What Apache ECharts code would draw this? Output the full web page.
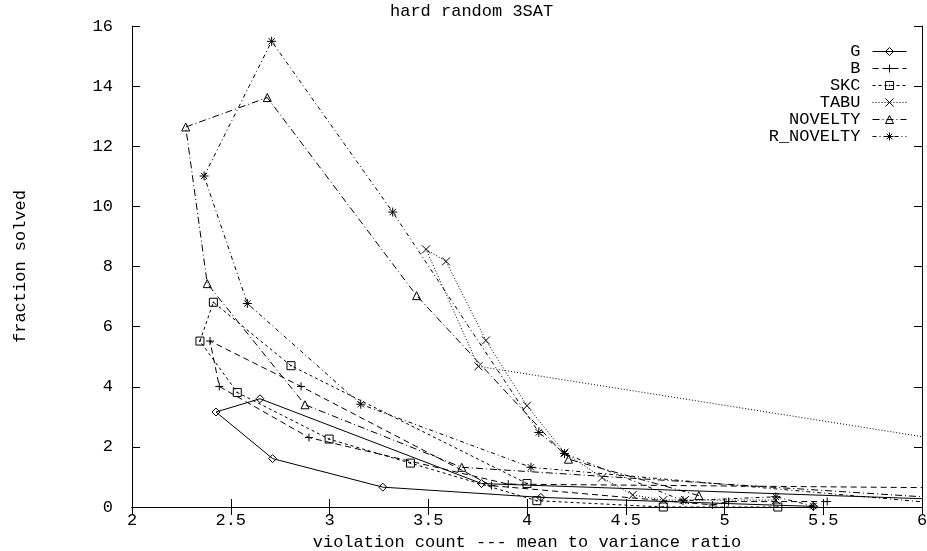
<!DOCTYPE html>
<html><head><meta charset="utf-8">
<script src="https://cdn.jsdelivr.net/npm/echarts@6/dist/echarts.min.js"></script>
<style>html,body{margin:0;padding:0;background:#fff}#c{width:927px;height:551px}</style>
</head><body><div id="c"></div>
<script>
// ---- data (x = violation count mean/variance ratio, y = fraction solved), in file order ----
const seriesNames = ['G', 'B', 'SKC', 'TABU', 'NOVELTY', 'R_NOVELTY'];
const G = [[7.0,0.05],[3.77,0.78],[2.648,3.6],[2.425,3.16],[2.712,1.61],[3.27,0.66],[4.07,0.32],[5.45,0.02]];
const B = [[5.52,0.18],[5.02,0.18],[4.94,0.07],[3.82,0.71],[2.856,4.01],[2.395,5.52],[2.442,4.01],[2.896,2.31],[3.905,0.76],[7.0,0.59]];
const SKC = [[4.0,0.78],[2.805,4.70],[2.412,6.81],[2.344,5.52],[2.533,3.81],[2.998,2.26],[3.41,1.46],[4.05,0.21],[4.69,0.0],[5.27,0.0]];
const TABU = [[7.0,1.30],[3.754,4.68],[3.489,8.57],[3.59,8.17],[3.792,5.54],[4.0,3.37],[4.19,1.81],[4.38,0.98],[4.535,0.4],[4.69,0.23],[4.8,0.23],[5.26,0.23]];
const NOVELTY = [[4.87,0.38],[4.21,1.59],[3.441,7.03],[2.685,13.62],[2.272,12.64],[2.381,7.43],[2.876,3.4],[3.67,1.32],[6.5,0.13]];
const R_NOVELTY = [[5.45,0.03],[5.26,0.34],[4.79,0.21],[4.19,1.78],[4.06,2.48],[3.32,9.81],[2.707,15.49],[2.365,11.01],[2.584,6.77],[3.158,3.42],[4.02,1.32],[6.3,0.0]];
const xRange = [2, 6, 0.5];
const yRange = [0, 16, 2];
const titleText = 'hard random 3SAT';
const xName = 'violation count --- mean to variance ratio';
const yName = 'fraction solved';

// ---- styling ----
const FONT = 'Liberation Mono';
const FS = 17;
const INK = '#000';
const syms = {
  G: 'diamond',
  B: 'path://M0 5L10 5M5 0L5 10',
  SKC: 'path://M0 0L10 0L10 10L0 10ZM4.5 4.5L5.5 4.5L5.5 5.5L4.5 5.5Z',
  TABU: 'path://M0 0L10 10M0 10L10 0',
  NOVELTY: 'triangle',
  R_NOVELTY: 'path://M0 5L10 5M5 0L5 10M1.5 1.5L8.5 8.5M1.5 8.5L8.5 1.5'
};
const symSizes = {G: 8, B: 8, SKC: 8, TABU: 8, NOVELTY: 8, R_NOVELTY: 9};
const dashes = {
  G: 'solid',
  B: [6, 4],
  SKC: [3, 3],
  TABU: [1, 2],
  NOVELTY: [7, 3, 1, 3],
  R_NOVELTY: [4, 3, 1, 3]
};
const dataMap = {G, B, SKC, TABU, NOVELTY, R_NOVELTY};

const chart = echarts.init(document.getElementById('c'), null, {renderer: 'canvas'});

const axisCommon = {
  type: 'value',
  axisLine: {show: true, lineStyle: {color: INK, width: 1}},
  axisTick: {show: true, inside: true, length: 8, lineStyle: {color: INK}},
  splitLine: {show: false}
};

chart.setOption({
  animation: false,
  backgroundColor: '#fff',
  title: {
    text: titleText, left: 390, top: 3, padding: 0,
    textStyle: {fontFamily: FONT, fontSize: FS, fontWeight: 'normal', color: INK}
  },
  grid: {left: 132, right: 5, top: 26, bottom: 44, containLabel: false, outerBoundsMode: 'none'},
  legend: {
    data: seriesNames,
    orient: 'vertical',
    align: 'right',
    right: 20, top: 43,
    itemWidth: 34, itemHeight: 10, itemGap: 0,
    padding: 0,
    itemStyle: {color: 'rgba(0,0,0,0)', borderColor: INK, borderWidth: 1},
    lineStyle: {color: INK, width: 1},
    textStyle: {fontFamily: FONT, fontSize: FS, color: INK, lineHeight: 15.5, padding: [0, 7, 0, 0]}
  },
  xAxis: [
    Object.assign({}, axisCommon, {
      min: xRange[0], max: xRange[1], interval: xRange[2], position: 'bottom',
      name: xName, nameLocation: 'middle', nameGap: 26,
      nameTextStyle: {fontFamily: FONT, fontSize: FS, color: INK},
      axisLabel: {fontFamily: FONT, fontSize: FS, color: INK, margin: 5}
    }),
    Object.assign({}, axisCommon, {
      min: xRange[0], max: xRange[1], interval: xRange[2], position: 'top',
      axisLabel: {show: false}
    })
  ],
  yAxis: [
    Object.assign({}, axisCommon, {
      min: yRange[0], max: yRange[1], interval: yRange[2], position: 'left',
      name: yName, nameLocation: 'middle', nameGap: 103, nameRotate: 90,
      nameTextStyle: {fontFamily: FONT, fontSize: FS, color: INK},
      axisLabel: {fontFamily: FONT, fontSize: FS, color: INK, margin: 19}
    }),
    Object.assign({}, axisCommon, {
      min: yRange[0], max: yRange[1], interval: yRange[2], position: 'right',
      axisLabel: {show: false}
    })
  ],
  series: seriesNames.map(n => ({
    name: n,
    type: 'line',
    xAxisIndex: 0, yAxisIndex: 0,
    data: dataMap[n],
    clip: true,
    symbol: syms[n],
    symbolSize: symSizes[n],
    showSymbol: true,
    showAllSymbol: true,
    itemStyle: {color: 'rgba(0,0,0,0)', borderColor: INK, borderWidth: 1},
    lineStyle: {color: INK, width: 1, type: dashes[n]},
    emphasis: {disabled: true}
  }))
});
</script></body></html>
